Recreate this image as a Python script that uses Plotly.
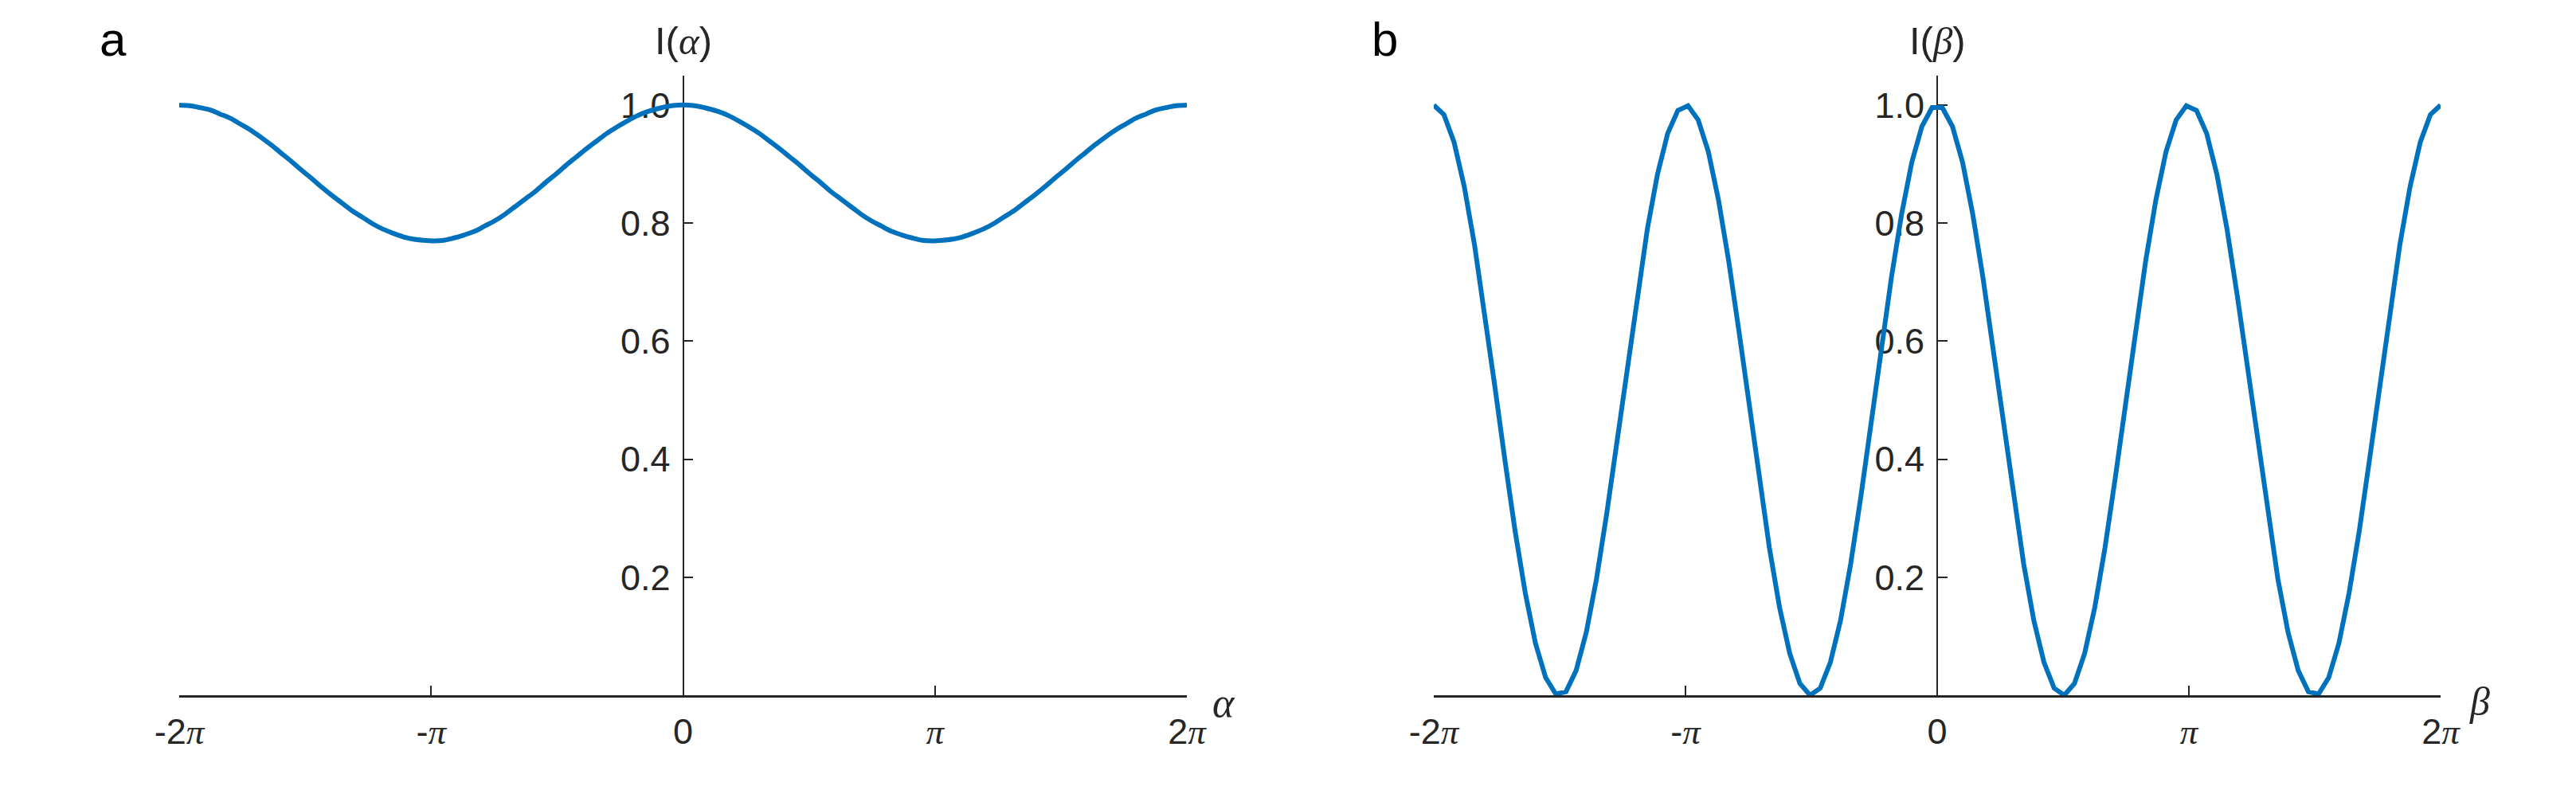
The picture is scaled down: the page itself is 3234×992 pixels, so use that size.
import numpy as np
import plotly.graph_objects as go

# sample grid used for both panels (100 points from -2pi to 2pi)
x_vals = np.linspace(-2 * np.pi, 2 * np.pi, 100)

# panel a: I(alpha), first half (second half mirrors it)
i_alpha_half = [1.000, 0.999, 0.996, 0.992, 0.985, 0.978, 0.968, 0.958, 0.946, 0.933,
                0.919, 0.905, 0.890, 0.876, 0.861, 0.847, 0.834, 0.821, 0.810, 0.799,
                0.790, 0.783, 0.777, 0.773, 0.771, 0.770, 0.771, 0.775, 0.780, 0.786,
                0.795, 0.804, 0.815, 0.828, 0.841, 0.854, 0.869, 0.883, 0.898, 0.912,
                0.926, 0.939, 0.952, 0.963, 0.973, 0.982, 0.989, 0.994, 0.998, 1.000]
i_alpha = i_alpha_half + i_alpha_half[::-1]

# panel b: I(beta), first half (second half mirrors it)
i_beta_half = [1.000, 0.984, 0.937, 0.862, 0.764, 0.649, 0.524, 0.398, 0.278, 0.173,
               0.088, 0.030, 0.002, 0.006, 0.042, 0.107, 0.197, 0.307, 0.429, 0.555,
               0.678, 0.790, 0.883, 0.952, 0.991, 0.999, 0.975, 0.921, 0.839, 0.736,
               0.618, 0.492, 0.367, 0.250, 0.149, 0.071, 0.020, 0.000, 0.012, 0.056,
               0.127, 0.223, 0.337, 0.460, 0.587, 0.708, 0.815, 0.903, 0.964, 0.996]
i_beta = i_beta_half + i_beta_half[::-1]

x_tickvals = [-2 * np.pi, -np.pi, 0, np.pi, 2 * np.pi]
PI = "<span style='font-family:Liberation Serif'><i>π</i></span>"
x_ticktext = ["-2" + PI, "-" + PI, "0", PI, "2" + PI]
y_tickvals = [0.2, 0.4, 0.6, 0.8, 1.0]
y_ticktext = ["0.2", "0.4", "0.6", "0.8", "1.0"]

W, H = 3234, 992
OFF = 8  # default page body margin
SANS = "Liberation Sans, Arial, sans-serif"
SERIF = "Liberation Serif, Times New Roman, serif"
AX = "#262626"
BLUE = "#0072BD"


def px_x(p):
    return (p - OFF) / W


def px_y(p):
    return (H - (p - OFF)) / H


fig = go.Figure()
fig.add_trace(go.Scatter(x=x_vals, y=i_alpha, mode="lines", xaxis="x", yaxis="y",
                         line=dict(color=BLUE, width=6, shape="spline"), showlegend=False))
fig.add_trace(go.Scatter(x=x_vals, y=i_beta, mode="lines", xaxis="x2", yaxis="y2",
                         line=dict(color=BLUE, width=6), showlegend=False))

y_dom = [px_y(873), px_y(95)]
panels = [
    ("xaxis", "yaxis", (225, 1490), 857.5, "y"),
    ("xaxis2", "yaxis2", (1800, 3064), 2432, "y2"),
]

for xname, yname, (x0, x1), ypos, yref in panels:
    fig.update_layout({
        xname: dict(domain=[px_x(x0), px_x(x1)], anchor=yref, range=[-2 * np.pi, 2 * np.pi],
                    tickvals=x_tickvals, ticktext=x_ticktext, ticks="inside", ticklen=12,
                    tickwidth=1.5, tickcolor=AX, showline=True, linecolor=AX, linewidth=2.5,
                    showgrid=False, zeroline=False, ticklabelstandoff=4, automargin=False,
                    tickfont=dict(family=SANS, size=45, color=AX)),
        yname: dict(domain=y_dom, anchor="free", position=px_x(ypos), range=[0, 1.05],
                    tickvals=y_tickvals, ticktext=y_ticktext, ticks="inside", ticklen=12,
                    tickwidth=1.5, tickcolor=AX, showline=True, linecolor=AX, linewidth=1.8,
                    showgrid=False, zeroline=False, layer="below traces", automargin=False,
                    ticklabelstandoff=6, tickfont=dict(family=SANS, size=45, color=AX)),
    })

annotations = [
    dict(text="a", x=142, y=49, font=dict(family=SANS, size=60, color="black")),
    dict(text="b", x=1739, y=49, font=dict(family=SANS, size=60, color="black")),
    dict(text="I(<span style='font-family:Liberation Serif'><i>α</i></span>)", x=857.5, y=52,
         font=dict(family=SANS, size=49, color=AX)),
    dict(text="I(<span style='font-family:Liberation Serif'><i>β</i></span>)", x=2432, y=52,
         font=dict(family=SANS, size=49, color=AX)),
    dict(text="<i>α</i>", x=1536, y=882, font=dict(family=SERIF, size=52, color=AX)),
    dict(text="<i>β</i>", x=3113, y=881, font=dict(family=SERIF, size=50, color=AX)),
]
for a in annotations:
    fig.add_annotation(text=a["text"], x=px_x(a["x"]), y=px_y(a["y"]), xref="paper", yref="paper",
                       xanchor="center", yanchor="middle", showarrow=False, font=a["font"])

fig.update_layout(width=W, height=H, autosize=False,
                  margin=dict(l=0, r=0, t=0, b=0, autoexpand=False),
                  paper_bgcolor="white", plot_bgcolor="white")

fig.write_html("out.html")
